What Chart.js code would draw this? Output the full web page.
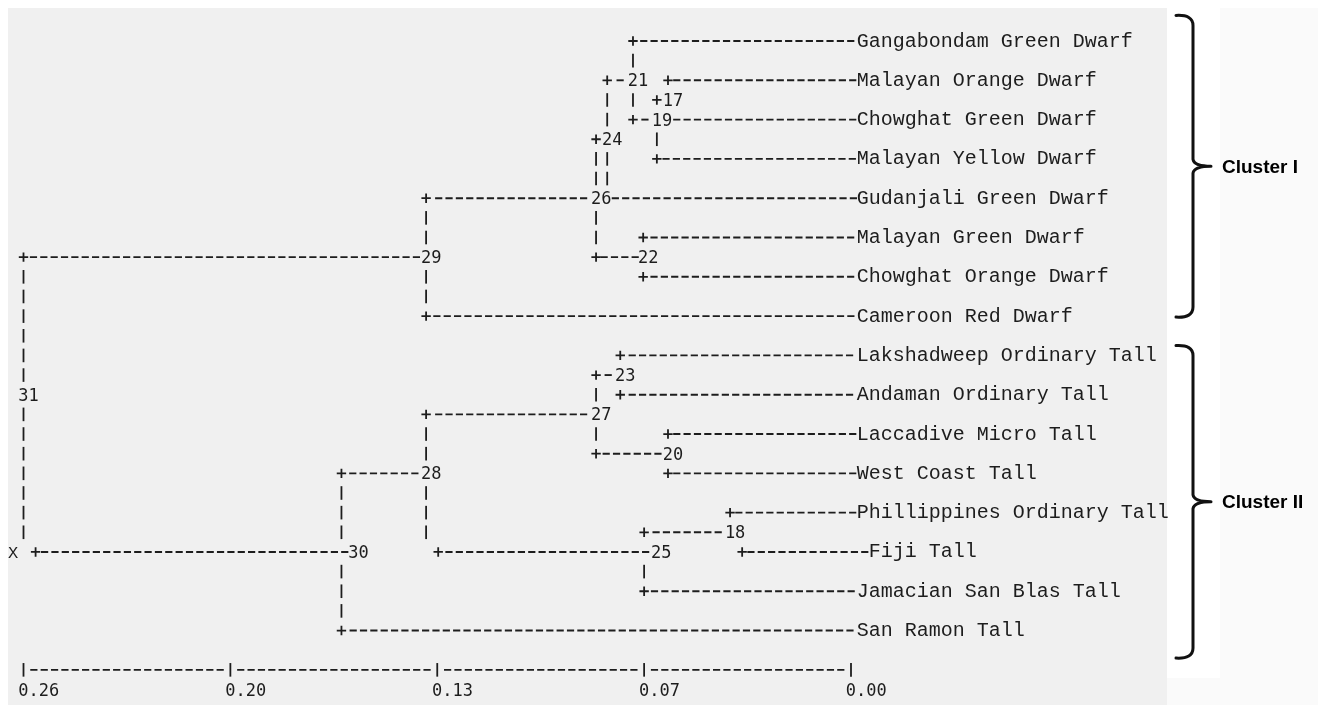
<!DOCTYPE html>
<html>
<head>
<meta charset="utf-8">
<script src="https://cdn.jsdelivr.net/npm/chart.js@4.4.1/dist/chart.umd.min.js"></script>
<style>
  html, body { margin: 0; padding: 0; background: #fff; }
  #wrap { position: relative; width: 1318px; height: 705px; }
</style>
</head>
<body>
<div id="wrap"><canvas id="dendro" width="1318" height="705"></canvas></div>
<script>
// leaves are numbered 1..16 top to bottom, clusters 17..31 as printed
const leafNames = [
  "Gangabondam Green Dwarf", "Malayan Orange Dwarf", "Chowghat Green Dwarf", "Malayan Yellow Dwarf",
  "Gudanjali Green Dwarf", "Malayan Green Dwarf", "Chowghat Orange Dwarf", "Cameroon Red Dwarf",
  "Lakshadweep Ordinary Tall", "Andaman Ordinary Tall", "Laccadive Micro Tall", "West Coast Tall",
  "Phillippines Ordinary Tall", "Fiji Tall", "Jamacian San Blas Tall", "San Ramon Tall"
];
const nodeIds     = [17, 18, 19, 20, 21, 22, 23, 24, 25, 26, 27, 28, 29, 30, 31];
const nodeHeights = [0.0575, 0.038, 0.061, 0.0575, 0.0685, 0.0653, 0.0725, 0.0766, 0.065, 0.0801, 0.0801, 0.1335, 0.1335, 0.1601, 0.26];
const nodeUpper   = [2, 13, 17, 11, 1, 6, 9, 21, 18, 24, 23, 27, 26, 28, 29];
const nodeLower   = [3, 14, 4, 12, 19, 7, 10, 5, 15, 22, 20, 25, 8, 16, 30];

const tickValues = [0.26, 0.195, 0.13, 0.065, 0];
const tickLabels = ["0.26", "0.20", "0.13", "0.07", "0.00"];

const clusterNames  = ["Cluster I", "Cluster II"];
const clusterTop    = [-1.3, 15.5];
const clusterBottom = [14.05, 31.4];

// text layout: one column of the printout, in distance units
const STEP = 0.26 / 80;
const AXIS_ROW = 32;
const ROW_SHIFT = { 26: -0.0038 };   // that printed line sits one character to the right
const INK = "#1d1d1d";

const isLeaf = id => id <= leafNames.length;
const nodeIndex = id => nodeIds.indexOf(id);
const heightOf = id => isLeaf(id) ? 0 : nodeHeights[nodeIndex(id)];
const shiftOf = r => ROW_SHIFT[r] || 0;

function rowOf(id) {
  if (isLeaf(id)) return 2 * (id - 1);
  const i = nodeIndex(id);
  return Math.floor((rowOf(nodeUpper[i]) + rowOf(nodeLower[i])) / 2);
}

// a printed cluster number overwrites whatever was under it
function hidden(v, r) {
  return nodeIds.some((id, i) => {
    if (rowOf(id) !== r) return false;
    const start = nodeHeights[i] + STEP / 2;
    return v <= start && v >= start - String(id).length * STEP;
  });
}

const dashRuns = [];
const plusPts = [];
const barPts = [];

nodeIds.forEach((id, i) => {
  const h = nodeHeights[i];
  const own = rowOf(id);
  const kids = [nodeUpper[i], nodeLower[i]];
  kids.forEach(kid => {
    const r = rowOf(kid);
    if (!hidden(h, r)) plusPts.push({ x: h + shiftOf(r), y: r });
    const from = h - STEP;
    const to = isLeaf(kid) ? 0 : heightOf(kid) + STEP;
    if (from >= to - 1e-9) dashRuns.push({ r, from, to });
  });
  const r1 = rowOf(kids[0]), r2 = rowOf(kids[1]);
  for (let r = r1 + 1; r < r2; r++) {
    if (r !== own && !hidden(h, r)) barPts.push({ x: h + shiftOf(r), y: r });
  }
});

// scale line at the bottom
for (let i = 0; i < tickValues.length - 1; i++) {
  dashRuns.push({ r: AXIS_ROW, from: tickValues[i] - STEP, to: tickValues[i + 1] + STEP });
}
tickValues.forEach(v => barPts.push({ x: v, y: AXIS_ROW }));

// a run is a whole number of dash characters, centred in its gap
const datasets = dashRuns.map(d => {
  const n = Math.max(1, Math.round((d.from - d.to) / STEP + 1));
  const mid = (d.from + d.to) / 2 + shiftOf(d.r);
  return {
    type: "line",
    data: [
      { x: mid + n * STEP / 2, y: d.r },
      { x: mid - n * STEP / 2, y: d.r }
    ],
    borderColor: INK,
    borderWidth: 1.9,
    borderDash: [7.2, 3.15],
    borderDashOffset: -1.6,
    pointRadius: 0,
    fill: false,
    clip: false
  };
});

datasets.push({
  type: "scatter",
  data: plusPts,
  pointStyle: "cross",
  pointRadius: 4.7,
  pointBorderWidth: 1.8,
  pointBorderColor: INK,
  clip: false
});

datasets.push({
  type: "scatter",
  data: barPts,
  pointStyle: "line",
  pointRotation: 90,
  pointRadius: 6.8,
  pointBorderWidth: 1.8,
  pointBorderColor: INK,
  clip: false
});

const backdrop = {
  id: "backdrop",
  beforeDraw(chart) {
    const { ctx } = chart;
    ctx.save();
    ctx.fillStyle = "#ffffff";
    ctx.fillRect(0, 0, chart.width, chart.height);
    ctx.fillStyle = "#f0f0f0";
    ctx.fillRect(8, 8, 1159, 697);
    ctx.fillStyle = "#fafafa";
    ctx.fillRect(1220, 8, 98, 697);
    ctx.fillRect(1167, 678, 53, 27);
    ctx.restore();
  }
};

const printout = {
  id: "printout",
  afterDatasetsDraw(chart) {
    const { ctx, scales: { x, y } } = chart;
    const cw = Math.abs(x.getPixelForValue(0) - x.getPixelForValue(STEP));
    ctx.save();
    ctx.fillStyle = INK;
    ctx.textAlign = "left";
    ctx.textBaseline = "alphabetic";

    ctx.font = '17px "DejaVu Sans Mono"';
    nodeIds.forEach((id, i) => {
      const r = rowOf(id);
      ctx.fillText(String(id), x.getPixelForValue(nodeHeights[i] + shiftOf(r)) - cw / 2, y.getPixelForValue(r) + 6);
    });
    tickValues.forEach((v, i) => {
      ctx.fillText(tickLabels[i], x.getPixelForValue(v) - cw / 2, y.getPixelForValue(AXIS_ROW + 1) + 6);
    });

    // root marker printed in front of the last root branch
    const root = nodeIds[nodeIds.length - 1];
    const rootRow = rowOf(nodeLower[nodeIndex(root)]);
    ctx.font = '17px "Liberation Mono"';
    ctx.fillText("X", x.getPixelForValue(heightOf(root) + STEP) - cw / 2, y.getPixelForValue(rootRow) + 6);

    ctx.font = '20px "Liberation Mono"';
    leafNames.forEach((name, i) => {
      const r = rowOf(i + 1);
      ctx.fillText(name, x.getPixelForValue(shiftOf(r)) + cw / 2 + 0.5, y.getPixelForValue(r) + 5.5);
    });

    // cluster braces
    ctx.strokeStyle = "#111";
    ctx.lineWidth = 3;
    ctx.lineCap = "round";
    ctx.lineJoin = "round";
    const bx = 1193;
    clusterNames.forEach((name, i) => {
      const y0 = y.getPixelForValue(clusterTop[i]);
      const y1 = y.getPixelForValue(clusterBottom[i]);
      const ym = (y0 + y1) / 2;
      ctx.beginPath();
      ctx.moveTo(bx - 17, y0);
      ctx.quadraticCurveTo(bx, y0 - 1, bx, y0 + 10);
      ctx.lineTo(bx, ym - 7);
      ctx.quadraticCurveTo(bx + 1, ym, bx + 18, ym);
      ctx.moveTo(bx + 18, ym);
      ctx.quadraticCurveTo(bx + 1, ym, bx, ym + 7);
      ctx.lineTo(bx, y1 - 10);
      ctx.quadraticCurveTo(bx, y1 + 1, bx - 17, y1);
      ctx.stroke();
      ctx.fillStyle = "#000";
      ctx.font = 'bold 19px "Liberation Sans"';
      ctx.textBaseline = "middle";
      ctx.fillText(name, 1222, ym + 1);
      ctx.textBaseline = "alphabetic";
    });
    ctx.restore();
  }
};

new Chart(document.getElementById("dendro"), {
  type: "scatter",
  data: { datasets },
  options: {
    responsive: false,
    animation: false,
    events: [],
    layout: { autoPadding: false, padding: { left: 23.5, right: 467, top: 41, bottom: 15.5 } },
    plugins: { legend: { display: false }, tooltip: { enabled: false } },
    scales: {
      x: { type: "linear", min: 0, max: 0.26, reverse: true, display: false },
      y: { type: "linear", min: 0, max: 33, reverse: true, display: false }
    }
  },
  plugins: [backdrop, printout]
});
</script>
</body>
</html>
